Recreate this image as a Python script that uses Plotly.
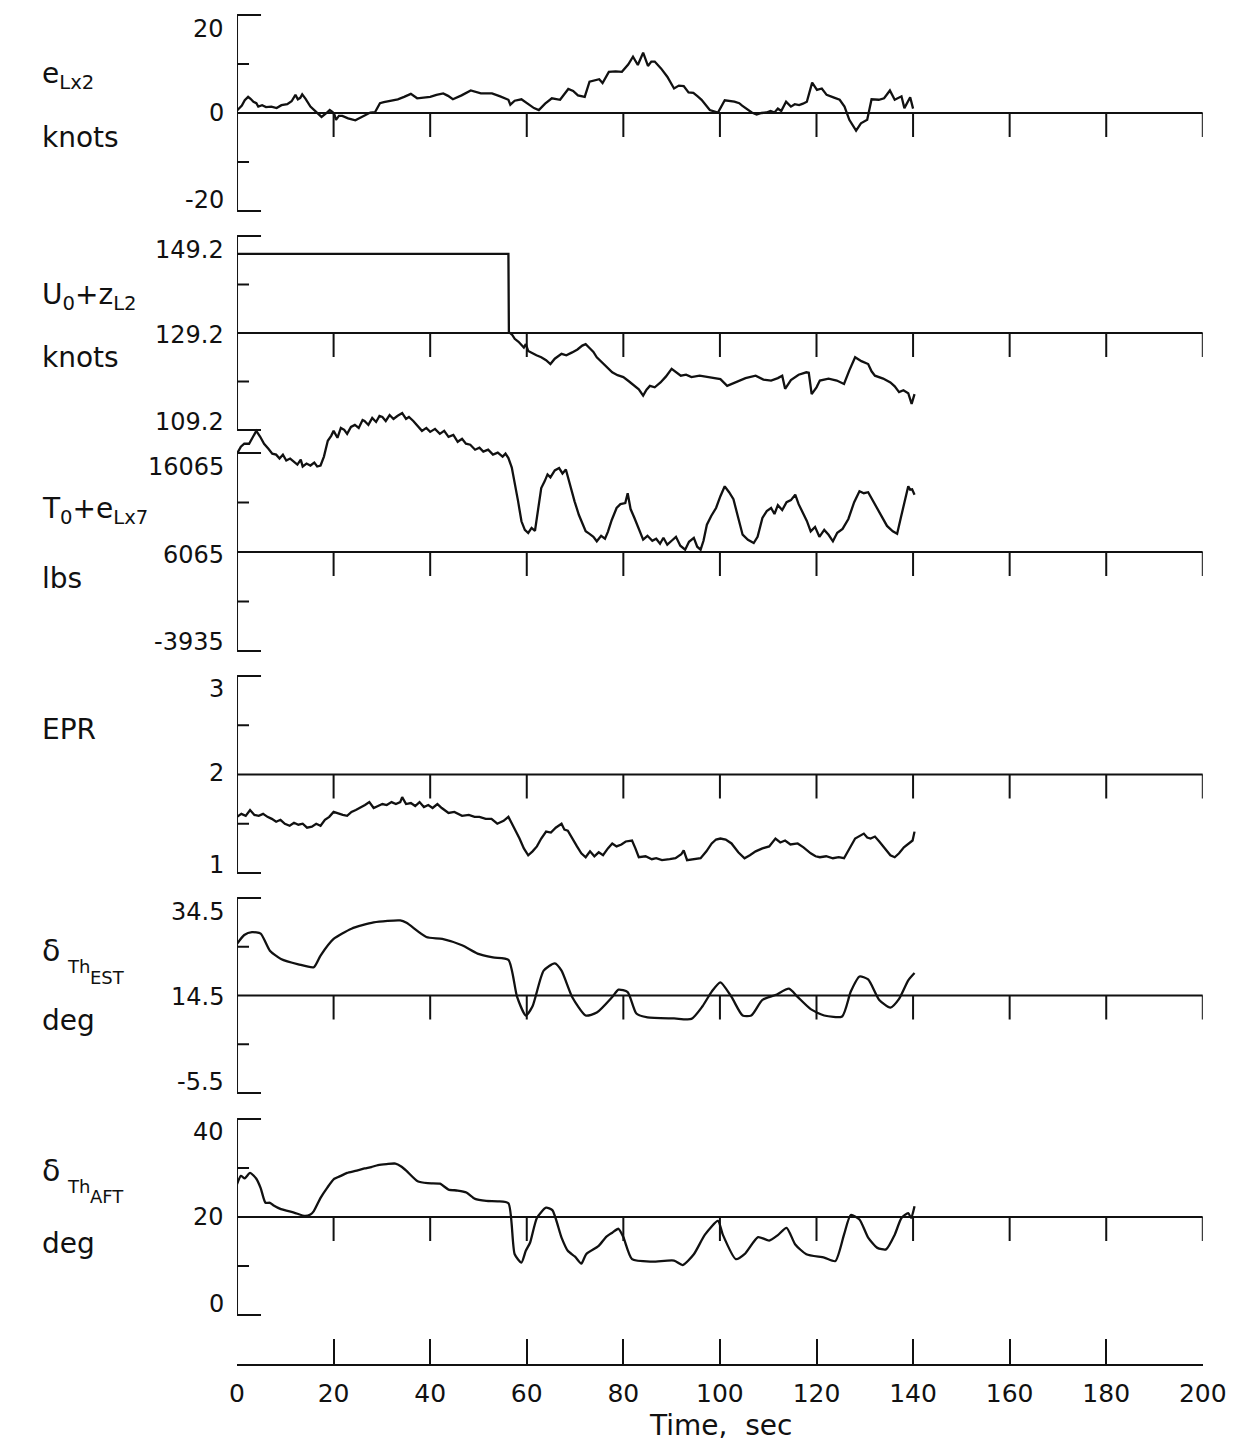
import plotly.graph_objects as go

W, H = 1258, 1444

# ---------------- data (time in sec) ----------------
T_ELX2 = [0, 0.5, 1, 1.6, 2.3, 2.8, 3.4, 4.0, 4.4, 5.2,
          6, 7.1, 8.2, 9.2, 10.4, 11.3, 12.1, 12.6, 13.1, 13.5,
          14.2, 15.2, 16.0, 16.8, 17.5, 18.3, 19.2, 19.8, 20.2, 20.5,
          21.1, 21.8, 23.0, 24.5, 25.5, 26.5, 27.6, 28.6, 29.6, 30.4,
          31.3, 32.3, 33.3, 34.6, 36.0, 37.3, 38.6, 40, 41.3, 42.7,
          43.7, 44.7, 46.5, 48.4, 50.5, 52.8, 54.5, 56.2, 56.6, 57.5,
          58.9, 60.5, 61.5, 62.5, 63.8, 65.2, 66.9, 68.6, 69.6, 70.6,
          72, 73, 74, 75, 75.7, 77, 78.4, 79.7, 81, 82,
          83, 84.1, 85.1, 85.8, 86.5, 87.8, 89.1, 90.5, 91.5, 92.5,
          93.5, 94.5, 95.4, 96.2, 97.9, 99.6, 101, 102, 103, 104,
          104.6, 106.6, 107.6, 108.6, 109.6, 110.5, 111.3, 112, 112.7, 113.7,
          114.7, 115.5, 116.4, 117.2, 118, 119.1, 120.1, 121.1, 122.1, 123.5,
          124.8, 125.8, 126.8, 128.2, 129.2, 130.5, 131.4, 132.9, 134, 135.2,
          136.2, 137.6, 138.2, 139.4, 140]
V_ELX2 = [0.5, 1.0, 1.5, 2.6, 3.3, 2.9, 2.3, 2.0, 1.3, 1.6,
          1.2, 1.3, 1.0, 1.6, 1.8, 2.4, 3.7, 2.8, 3.1, 3.8,
          2.9, 1.3, 0.6, -0.1, -0.8, -0.2, 0.6, 0.2, -0.4, -1.4,
          -0.6, -0.6, -1.1, -1.5, -1.0, -0.4, 0.1, 0.2, 2.0, 2.2,
          2.4, 2.6, 2.8, 3.3, 3.9, 3.0, 3.2, 3.3, 3.7, 4.0,
          3.5, 2.8, 3.6, 4.6, 4.0, 4.0, 3.4, 2.7, 1.7, 2.5,
          2.8, 1.6, 1.0, 0.6, 1.9, 3.0, 2.7, 4.9, 4.5, 3.6,
          3.3, 6.4, 6.7, 6.9, 6.1, 8.4, 8.5, 8.4, 9.9, 11.5,
          9.8, 12.3, 9.6, 10.5, 10.5, 9.1, 7.4, 5.0, 5.6, 5.5,
          4.2, 4.1, 3.4, 2.7, 0.6, 0.1, 2.6, 2.5, 2.3, 2.0,
          1.5, 0.1, -0.3, 0.0, 0.1, 0.4, 0.1, 0.9, 0.4, 2.3,
          1.3, 1.8, 1.6, 1.9, 2.3, 6.2, 4.7, 5.0, 3.7, 3.2,
          2.7, 1.3, -1.4, -3.6, -2.1, -1.4, 2.8, 2.7, 3.0, 4.6,
          2.7, 3.4, 1.0, 3.2, 0.9]

T_U = [0, 56.2, 56.3, 57.0, 57.5, 58.3, 59.4, 59.8, 60.3, 61.2,
       62.0, 63, 64.0, 64.9, 65.8, 67.2, 68.2, 69.4, 70.5, 71.5,
       72.2, 73.1, 73.8, 74.5, 75.4, 76.3, 77.0, 77.7, 78.8, 80,
       81.2, 82.3, 83.2, 84.1, 84.8, 85.5, 86.5, 87.7, 88.8, 90,
       91, 91.9, 93, 94.1, 95.8, 97.8, 99, 100.1, 101.5, 103.3,
       105.3, 107.4, 109, 110.6, 112, 112.9, 113.5, 114.7, 116.3, 117.9,
       118.4, 119, 120.0, 120.7, 122.5, 124.2, 125.7, 126.8, 128, 129.3,
       130.7, 131.4, 132.1, 133.8, 135.3, 136.2, 137.1, 138, 139, 139.7,
       140.3]
V_U = [145.5, 145.5, 129.4, 128.8, 128.0, 127.4, 126.2, 126.9, 125.5, 125.0,
       124.6, 124.2, 123.6, 122.8, 123.9, 124.9, 124.6, 125.2, 125.8, 126.6,
       126.9, 126.0, 125.3, 124.2, 123.3, 122.5, 121.6, 121.1, 120.5, 120.1,
       119.2, 118.3, 117.6, 116.3, 117.5, 118.3, 118.0, 119.0, 120.2, 121.8,
       121.0, 120.4, 120.6, 120.1, 120.4, 120.1, 119.8, 119.7, 118.3, 119.0,
       119.9, 120.4, 119.6, 119.4, 119.9, 120.4, 117.7, 119.5, 120.6, 121.1,
       121.0, 116.6, 118.0, 119.4, 119.8, 119.4, 118.7, 121.5, 124.2, 123.4,
       122.8, 121.3, 120.4, 119.8, 119.0, 118.2, 117.0, 117.4, 116.8, 114.6,
       116.6]

T_THR = [0, 0.8, 1.5, 2.5, 3.2, 4, 4.8, 5.6, 6.5, 7.3,
         8.1, 8.8, 9.5, 10.2, 11.0, 11.8, 12.5, 13.2, 13.6, 14.4,
         15.2, 16.0, 16.6, 17.3, 18.0, 18.8, 19.5, 20.0, 20.8, 21.5,
         22.2, 22.8, 23.6, 24.4, 25.2, 26.0, 26.4, 27.2, 28.0, 28.8,
         29.5, 30.1, 30.8, 31.6, 32.4, 33.2, 34.2, 35.0, 35.6, 36.5,
         37.3, 38.3, 39.2, 40.0, 41.0, 42.0, 42.9, 43.8, 44.8, 45.7,
         46.6, 47.4, 48.3, 49.3, 50.2, 51.0, 52.0, 53.0, 54.0, 55.0,
         55.6, 56.2, 56.9, 57.5, 58.2, 58.9, 59.6, 60.3, 61.0, 61.7,
         62.3, 63.0, 63.7, 64.3, 64.9, 65.8, 66.7, 67.4, 68.1, 69.0,
         69.9, 70.8, 71.5, 72.2, 73.0, 73.8, 74.5, 75.4, 76.2, 76.8,
         77.6, 78.6, 79.4, 80.4, 80.9, 81.5, 82.3, 83.2, 84.1, 85.0,
         86.0, 86.8, 87.6, 88.3, 89.1, 90.0, 90.9, 91.8, 92.8, 93.6,
         94.6, 95.3, 96.0, 96.6, 97.3, 98.2, 99.2, 100.1, 101.0, 101.9,
         102.8, 103.8, 104.7, 105.8, 107.0, 107.8, 108.8, 109.7, 110.6, 111.3,
         112.0, 112.9, 113.8, 114.7, 115.6, 116.3, 117.0, 118.0, 118.8, 119.7,
         120.6, 121.6, 122.5, 123.4, 124.3, 125.4, 126.6, 127.8, 128.9, 129.8,
         130.7, 131.6, 132.5, 133.5, 134.6, 135.8, 136.7, 137.5, 138.5, 139.0,
         139.4, 139.8, 140.3]
V_THR = [16000, 16700, 17000, 17000, 17600, 18300, 17700, 17000, 16500, 16000,
         15900, 15500, 15900, 15300, 15500, 15200, 14900, 15400, 14700, 15000,
         14800, 15100, 14700, 14800, 15700, 17300, 17800, 18300, 17600, 18600,
         18400, 18000, 18700, 18900, 18600, 19400, 19300, 18900, 19600, 19200,
         19800, 19700, 19300, 19900, 19500, 19800, 20100, 19500, 19700, 19300,
         18900, 18300, 18600, 18200, 18500, 18000, 18300, 17700, 17900, 17200,
         17500, 17000, 16900, 16400, 16600, 16200, 16400, 15900, 16100, 15700,
         16000, 15560, 14600, 13200, 11200, 9166, 8300, 7984, 8500, 8200,
         10000, 12529, 13200, 13900, 13600, 14300, 14545, 14000, 14400, 12700,
         11186, 9800, 9000, 8156, 7900, 7600, 7146, 7700, 7400, 8100,
         9300, 10509, 10900, 11014, 12000, 10400, 9499, 8300, 7313, 7700,
         7200, 7400, 6900, 7500, 6802, 7200, 7600, 6700, 6297, 7100,
         7500, 6600, 6300, 7200, 8822, 9700, 10509, 11700, 12700, 12100,
         11400, 9500, 7812, 7300, 6974, 7600, 9499, 10200, 10509, 9900,
         10800, 10300, 11100, 11300, 11852, 10900, 10200, 9200, 8156, 8600,
         7600, 8300, 7800, 7146, 8000, 8400, 9400, 11100, 12196, 12000,
         12100, 11300, 10500, 9700, 8700, 8156, 7900, 9600, 11500, 12700,
         12360, 12400, 11852]

T_EPR = [0, 0.9, 1.8, 2.7, 3.6, 4.5, 5.4, 6.3, 7.2, 8.1,
         9.0, 9.9, 10.9, 11.8, 12.7, 13.6, 14.5, 15.5, 16.4, 17.3,
         18.2, 19.1, 20.0, 21.0, 21.9, 22.8, 23.7, 24.6, 25.5, 26.5,
         27.4, 28.3, 29.2, 30.1, 31.0, 32.0, 32.9, 33.8, 34.2, 35.0,
         36.0, 36.9, 37.8, 38.7, 39.6, 40.5, 41.5, 42.4, 43.8, 45.0,
         46.6, 48.0, 49.2, 50.2, 51.5, 52.7, 53.9, 55.2, 56.2, 57.3,
         58.5, 59.4, 60.3, 61.2, 62.1, 63.0, 64.0, 65.0, 66.0, 67.2,
         67.8, 68.5, 69.4, 70.4, 71.3, 72.2, 73.1, 74.0, 74.9, 75.8,
         76.8, 77.7, 78.6, 79.6, 80.5, 81.8, 82.5, 83.2, 84.6, 85.9,
         86.8, 88.0, 89.6, 90.8, 92.0, 92.5, 93.2, 94.5, 96.0, 97.2,
         98.3, 99.2, 100.1, 101.2, 102.4, 103.8, 105.1, 106.2, 107.4, 108.8,
         110.2, 111.5, 112.5, 113.5, 114.6, 116.1, 117.3, 118.8, 119.8, 120.7,
         122.0, 123.4, 124.6, 125.7, 126.8, 128.0, 129.8, 130.5, 131.2, 132.1,
         133.0, 134.4, 135.3, 136.2, 137.1, 138.1, 139.0, 139.9, 140.3]
V_EPR = [1.57, 1.60, 1.58, 1.64, 1.59, 1.58, 1.60, 1.57, 1.55, 1.52,
         1.54, 1.50, 1.48, 1.51, 1.49, 1.50, 1.46, 1.47, 1.50, 1.48,
         1.54, 1.57, 1.62, 1.60, 1.59, 1.58, 1.62, 1.64, 1.66, 1.69,
         1.72, 1.66, 1.68, 1.70, 1.69, 1.72, 1.70, 1.72, 1.77, 1.70,
         1.71, 1.68, 1.72, 1.67, 1.69, 1.66, 1.70, 1.66, 1.61, 1.62,
         1.58, 1.59, 1.57, 1.57, 1.55, 1.55, 1.50, 1.53, 1.57, 1.47,
         1.35, 1.25, 1.18, 1.22, 1.27, 1.35, 1.42, 1.41, 1.46, 1.50,
         1.44, 1.43, 1.35, 1.27, 1.20, 1.16, 1.22, 1.17, 1.21, 1.18,
         1.25, 1.30, 1.27, 1.29, 1.32, 1.33, 1.25, 1.16, 1.17, 1.14,
         1.15, 1.13, 1.14, 1.15, 1.19, 1.23, 1.13, 1.14, 1.15, 1.22,
         1.30, 1.34, 1.35, 1.34, 1.30, 1.21, 1.15, 1.18, 1.22, 1.25,
         1.27, 1.35, 1.31, 1.33, 1.29, 1.30, 1.26, 1.20, 1.17, 1.16,
         1.17, 1.15, 1.16, 1.15, 1.24, 1.35, 1.40, 1.36, 1.35, 1.37,
         1.32, 1.23, 1.18, 1.16, 1.20, 1.26, 1.30, 1.33, 1.42]

T_EST = [0, 1.5, 3.1, 4.9, 6.8, 9.1, 12.7, 15.9, 17.3, 20,
         23.7, 28.3, 33.8, 35.1, 39.2, 42.5, 46.6, 49.8, 53, 56.2,
         58, 59.8, 61.2, 63.5, 65.8, 67.2, 69.4, 72.2, 74.5, 77.7,
         79, 80.9, 82.7, 85, 90.5, 94.1, 96.4, 98.3, 100.1, 102.4,
         104.7, 106.5, 108.8, 111.5, 114.3, 116.1, 118.8, 121.6, 125.3, 127.1,
         128.9, 130.7, 133, 135.3, 137.1, 139, 140.3]
V_EST = [25.1, 26.9, 27.5, 27.2, 23.7, 22.0, 20.9, 20.3, 22.7, 26.1,
         28.2, 29.5, 29.9, 29.4, 26.5, 26.1, 24.8, 23.1, 22.3, 21.8,
         14.2, 10.4, 12.3, 19.6, 21.1, 19.6, 14.2, 10.4, 11.0, 14.2,
         15.7, 15.2, 10.8, 10.0, 9.8, 9.7, 12.3, 15.3, 17.2, 14.2,
         10.4, 10.4, 13.6, 14.6, 15.9, 14.2, 11.7, 10.4, 10.2, 15.3,
         18.4, 17.8, 13.6, 12.0, 13.8, 17.6, 19.1]

T_AFT = [0, 0.8, 1.6, 2.7, 4, 4.9, 5.9, 6.8, 7.5, 9.1,
         11.8, 14.1, 15.2, 15.9, 17.3, 18.7, 20, 21.5, 22.8, 24.5,
         26.4, 27.8, 29.2, 31, 32.8, 34, 35.1, 37.4, 39.5, 42,
         43.8, 45.7, 47.5, 49.3, 51.6, 54, 56.2, 57.5, 58.9, 59.8,
         60.7, 62.1, 64, 65.3, 67.2, 68.5, 70, 71.3, 72.3, 74.9,
         76.5, 77.7, 79, 80, 81.8, 85.9, 90.5, 92.3, 94.6, 96.9,
         99.6, 100.6, 103.3, 105.1, 107.9, 110.2, 112, 113.8, 115.6, 117.9,
         121.6, 123.9, 125.7, 127.1, 128.9, 130.7, 132.6, 134.4, 136.2, 137.6,
         139, 139.6, 140.3]
V_AFT = [26.7, 28.4, 27.9, 29.0, 27.8, 25.9, 22.9, 22.9, 22.4, 21.6,
         20.9, 20.2, 20.5, 21.2, 23.9, 26.0, 27.7, 28.4, 29.0, 29.4,
         29.9, 30.2, 30.6, 30.8, 30.9, 30.3, 29.4, 27.3, 26.9, 26.8,
         25.6, 25.4, 25.0, 23.7, 23.3, 23.2, 22.8, 12.4, 10.7, 13.1,
         14.8, 19.8, 21.9, 21.4, 15.8, 13.1, 11.9, 10.5, 12.4, 14.1,
         16.0, 16.8, 17.6, 15.9, 11.4, 10.9, 11.1, 10.2, 12.4, 16.4,
         19.2, 16.4, 11.4, 12.4, 15.9, 15.2, 16.3, 17.8, 14.4, 12.4,
         11.7, 11.0, 16.4, 20.4, 19.5, 15.8, 13.7, 13.4, 16.4, 19.8,
         20.8, 19.8, 22.2]

# tick label texts per panel (top, middle, bottom)
TICKS_1 = ["20", "0", "-20"]
TICKS_2 = ["149.2", "129.2", "109.2"]
TICKS_3 = ["16065", "6065", "-3935"]
TICKS_4 = ["3", "2", "1"]
TICKS_5 = ["34.5", "14.5", "-5.5"]
TICKS_6 = ["40", "20", "0"]
X_TICKS = [0, 20, 40, 60, 80, 100, 120, 140, 160, 180, 200]

# ---------------- layout geometry ----------------
def py(p):
    return 1 - p / H

FONT = "DejaVu Sans"
INK = "#111111"

panels = [
    dict(t=T_ELX2, v=V_ELX2, lims=(-20, 0, 20), top=15, bot=211, ctop=11,
         ticks=TICKS_1, tpx=(29, 113, 200), shape="linear"),
    dict(t=T_U, v=V_U, lims=(109.2, 129.2, 149.2), top=236, bot=430, ctop=232,
         ticks=TICKS_2, tpx=(250, 335, 422), shape="linear"),
    dict(t=T_THR, v=V_THR, lims=(-3935, 6065, 16065), top=453, bot=651, ctop=400,
         ticks=TICKS_3, tpx=(467, 555, 642), shape="linear"),
    dict(t=T_EPR, v=V_EPR, lims=(1, 2, 3), top=676, bot=873, ctop=672,
         ticks=TICKS_4, tpx=(689, 773, 865), shape="linear"),
    dict(t=T_EST, v=V_EST, lims=(-5.5, 14.5, 34.5), top=898, bot=1093, ctop=894,
         ticks=TICKS_5, tpx=(912, 997, 1082), shape="spline"),
    dict(t=T_AFT, v=V_AFT, lims=(0, 20, 40), top=1119, bot=1315, ctop=1115,
         ticks=TICKS_6, tpx=(1132, 1217, 1304), shape="spline"),
]

fig = go.Figure()
layout = dict(
    width=W, height=H, autosize=False, margin=dict(l=0, r=0, t=0, b=0, pad=0),
    paper_bgcolor="white", plot_bgcolor="rgba(0,0,0,0)", showlegend=False,
    xaxis=dict(domain=[235 / W, 1226 / W], range=[0, 200], anchor="free",
               position=py(1365), showline=True, linecolor=INK, linewidth=2,
               ticks="inside", ticklen=25, tickwidth=2, tickcolor=INK,
               tickvals=X_TICKS, ticktext=[str(v) for v in X_TICKS],
               tickfont=dict(family=FONT, size=25, color=INK),
               ticklabelstandoff=6, showgrid=False, zeroline=False),
)
shapes = []
annotations = []

for i, p in enumerate(panels, start=1):
    ymin, ymid, ymax = p["lims"]
    upp = (ymax - ymin) / (p["bot"] - p["top"])  # units per pixel
    pad_bot = 4
    r0 = ymin - pad_bot * upp
    r1 = ymax + (p["top"] - p["ctop"]) * upp
    yname = "yaxis" if i == 1 else f"yaxis{i}"
    yref = "y" if i == 1 else f"y{i}"
    layout[yname] = dict(domain=[py(p["bot"] + pad_bot), py(p["ctop"])],
                         range=[r0, r1], visible=False, anchor="x")
    fig.add_trace(go.Scatter(x=p["t"], y=p["v"], mode="lines", xaxis="x", yaxis=yref,
                             line=dict(color=INK, width=2.3, shape=p["shape"],
                                       smoothing=0.6),
                             hoverinfo="skip"))
    ln = dict(color=INK, width=2)
    shapes.append(dict(type="line", xref="x", yref=yref, x0=0, x1=0, y0=ymin, y1=ymax, line=ln))
    for yy in (ymin, ymax):
        shapes.append(dict(type="line", xref="x", yref=yref, xsizemode="pixel", xanchor=0,
                           x0=0, x1=24, y0=yy, y1=yy, line=ln))
    for yy in (ymin + 0.25 * (ymax - ymin), ymin + 0.75 * (ymax - ymin)):
        shapes.append(dict(type="line", xref="x", yref=yref, xsizemode="pixel", xanchor=0,
                           x0=0, x1=12, y0=yy, y1=yy, line=ln))
    shapes.append(dict(type="line", xref="x", yref=yref, x0=0, x1=200, y0=ymid, y1=ymid, line=ln))
    for tx in X_TICKS[1:]:
        shapes.append(dict(type="line", xref="x", yref=yref, ysizemode="pixel", yanchor=ymid,
                           x0=tx, x1=tx, y0=0, y1=-24, line=ln))
    for txt, pp in zip(p["ticks"], p["tpx"]):
        annotations.append(dict(text=txt, xref="paper", yref="paper", x=224 / W, y=py(pp),
                                xanchor="right", yanchor="middle", showarrow=False,
                                font=dict(family=FONT, size=24, color=INK)))


def label(text, xpx, ypx, size=28):
    annotations.append(dict(text=text, xref="paper", yref="paper", x=xpx / W, y=py(ypx),
                            xanchor="left", yanchor="middle", showarrow=False,
                            font=dict(family=FONT, size=size, color=INK)))

label("e<sub>Lx2</sub>", 33, 76)
label("knots", 33, 138)
label("U<sub>0</sub>+z<sub>L2</sub>", 33, 296)
label("knots", 33, 358)
label("T<sub>0</sub>+e<sub>Lx7</sub>", 33, 510)
label("lbs", 33, 578)
label("EPR", 33, 730)
label("δ", 33, 950, 30)
label("Th", 58, 966, 18)
label("EST", 82, 977, 18)
label("deg", 33, 1020)
label("δ", 33, 1170, 30)
label("Th", 58, 1186, 18)
label("AFT", 82, 1196, 18)
label("deg", 33, 1243)

annotations.append(dict(text="Time,  sec", xref="paper", yref="paper", x=731 / W, y=py(1425),
                        xanchor="center", yanchor="middle", showarrow=False,
                        font=dict(family=FONT, size=28, color=INK)))

layout["shapes"] = shapes
layout["annotations"] = annotations
fig.update_layout(**layout)
fig.write_html("out.html", config={"responsive": False, "displayModeBar": False})
